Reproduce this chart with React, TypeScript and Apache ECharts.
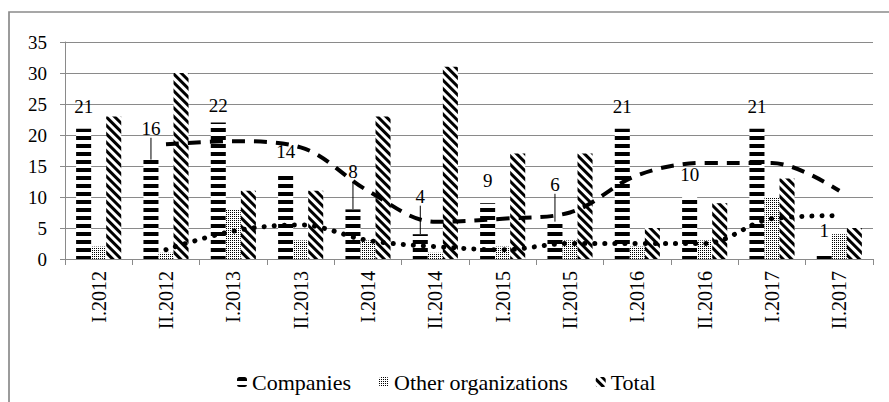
import React, { useEffect, useRef } from "react";
import * as echarts from "echarts";

const categories = ["I.2012", "II.2012", "I.2013", "II.2013", "I.2014", "II.2014", "I.2015", "II.2015", "I.2016", "II.2016", "I.2017", "II.2017"];
const companies = [21, 16, 22, 14, 8, 4, 9, 6, 21, 10, 21, 1];
const otherOrgs = [2, 1, 8, 3, 3, 1, 2, 3, 2, 3, 10, 4];
const total = [23, 30, 11, 11, 23, 31, 17, 17, 5, 9, 13, 5];
// two-period moving-average trendlines
const companiesTrend = [null, 18.5, 19, 18, 11, 6, 6.5, 7.5, 13.5, 15.5, 15.5, 11];
const otherTrend = [null, 1.5, 4.5, 5.5, 3, 2, 1.5, 2.5, 2.5, 2.5, 6.5, 7];
const yTicks = { min: 0, max: 35, interval: 5 };

// label placement tweaks (pixels) and leader-line flags for the Companies labels
const labelShift = [0, -9, 5, 2, -15, -15.5, 0, -15, 0, 0, 0, 0];
const leaderLine = [false, true, false, false, true, true, false, true, false, false, false, false];

const FONT = "Liberation Serif, DejaVu Serif, serif";
const GRAY = "#8a8a8a";

export default function App() {
  const ref = useRef<HTMLDivElement>(null);
  useEffect(() => {
    if (!ref.current) return;
    const chart = echarts.init(ref.current, null, { renderer: "svg" });
    const option: any = {
      animation: false,
      backgroundColor: "#fff",
      textStyle: { fontFamily: FONT, color: "#000" },
      graphic: [
        {
          type: "rect",
          shape: { x: 9, y: 12, width: 1000, height: 1000 },
          style: { fill: "none", stroke: GRAY, lineWidth: 1.7 },
          silent: true,
          z: -10,
        },
      ],
      grid: { left: 65, right: 16, top: 42, bottom: 143, containLabel: false },
      legend: {
        data: ["Companies", "Other organizations", "Total"],
        left: 232,
        top: 366,
        itemWidth: 10,
        itemHeight: 10,
        itemGap: 28,
        textStyle: { fontFamily: FONT, fontSize: 22, color: "#000" },
      },
      xAxis: {
        type: "category",
        data: categories,
        axisLine: { lineStyle: { color: GRAY, width: 1 } },
        axisTick: { show: true, alignWithLabel: false, length: 6, lineStyle: { color: GRAY } },
        axisLabel: { rotate: 90, margin: 12, fontFamily: FONT, fontSize: 20, color: "#000", interval: 0 },
      },
      yAxis: {
        type: "value",
        min: yTicks.min,
        max: yTicks.max,
        interval: yTicks.interval,
        axisLine: { show: true, lineStyle: { color: GRAY, width: 1 } },
        axisTick: { show: true, length: 5, lineStyle: { color: GRAY } },
        axisLabel: { margin: 18, fontFamily: FONT, fontSize: 19, color: "#000" },
        splitLine: { lineStyle: { color: GRAY, width: 1 } },
      },
      series: [
        {
          name: "Companies",
          type: "bar",
          barGap: "0%",
          barCategoryGap: "33%",
          data: companies.map((v, i) => (leaderLine[i] ? { value: v, labelLine: { show: true } } : v)),
          itemStyle: {
            color: "#fff",
            decal: { symbol: "rect", symbolSize: 1, color: "#000", dashArrayX: [1, 0], dashArrayY: [3.3, 3.3], rotation: 0 },
          },
          label: {
            show: true,
            position: "top",
            distance: 13,
            fontFamily: FONT,
            fontSize: 19,
            color: "#000",
          },
          labelLine: { show: false, lineStyle: { color: "#000", width: 1 } },
          labelLayout: (p: any) => ({ dy: labelShift[p.dataIndex] }),
          z: 2,
        },
        {
          name: "Other organizations",
          type: "bar",
          data: otherOrgs,
          itemStyle: {
            color: "#fff",
            decal: { symbol: "rect", symbolSize: 1, color: "#000", dashArrayX: [1, 1], dashArrayY: [1, 1], rotation: 0 },
          },
          z: 2,
        },
        {
          name: "Total",
          type: "bar",
          data: total,
          itemStyle: {
            color: "#fff",
            decal: { symbol: "rect", symbolSize: 1, color: "#000", dashArrayX: [1, 0], dashArrayY: [2.6, 2.1], rotation: Math.PI / 4 },
          },
          z: 2,
        },
        {
          name: "Companies trend",
          type: "line",
          data: companiesTrend,
          smooth: 0.35,
          symbol: "none",
          silent: true,
          lineStyle: { color: "#000", width: 4, type: [13, 9] },
          z: 5,
        },
        {
          name: "Other trend",
          type: "line",
          data: otherTrend,
          smooth: 0.35,
          symbol: "none",
          silent: true,
          lineStyle: { color: "#000", width: 5, type: [0.1, 10], cap: "round" },
          z: 5,
        },
      ],
    };
    chart.setOption(option);
    return () => chart.dispose();
  }, []);
  return <div ref={ref} style={{ position: "fixed", left: 0, top: 0, width: 889, height: 402 }} />;
}
